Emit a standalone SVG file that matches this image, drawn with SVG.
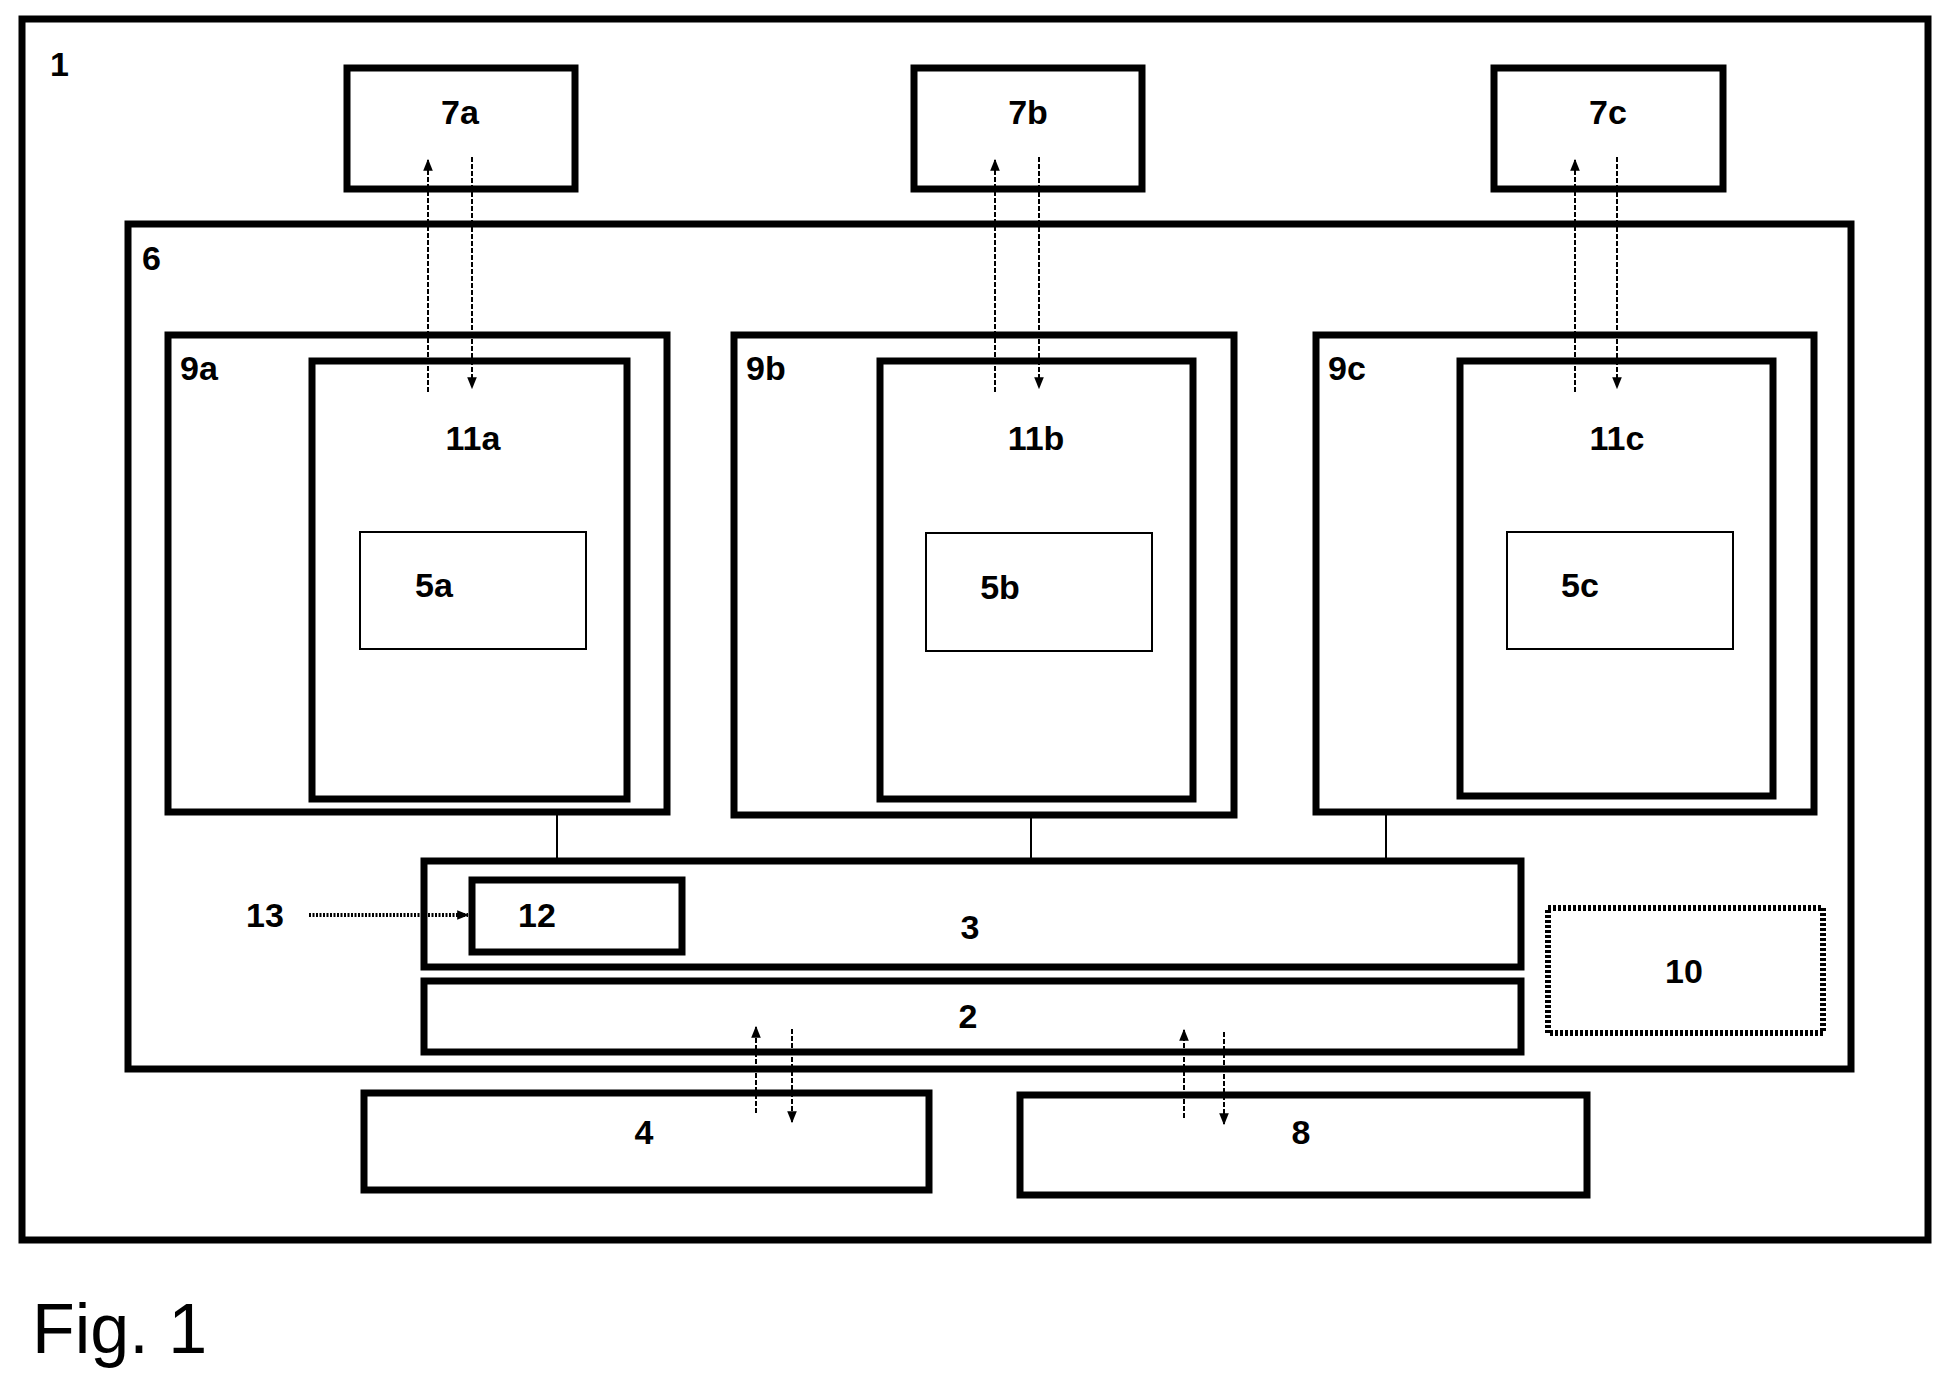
<svg xmlns="http://www.w3.org/2000/svg" width="1951" height="1391" viewBox="0 0 1951 1391">
<defs>
<style>
.b{fill:none;stroke:#000;stroke-width:7}
.t{fill:none;stroke:#000;stroke-width:2}
.l{font-family:"Liberation Sans",Arial,sans-serif;font-weight:bold;font-size:34px;fill:#000}
.c{text-anchor:middle}
.d{stroke:#000;stroke-width:2;stroke-dasharray:5 2;fill:none}
</style>
<marker id="a" viewBox="0 0 10 10" refX="9" refY="5" markerWidth="12" markerHeight="12" markerUnits="userSpaceOnUse" orient="auto"><path d="M0,1 L10,5 L0,9 Z" fill="#000"/></marker>
</defs>
<rect width="1951" height="1391" fill="#fff"/>
<g id="n1"><rect class="b" x="22" y="19" width="1906" height="1221"/><text class="l" x="50" y="76">1</text></g>
<g id="n7a"><rect class="b" x="347" y="68" width="228" height="121"/><text class="l c" x="460" y="124">7a</text></g>
<g id="n7b"><rect class="b" x="914" y="68" width="228" height="121"/><text class="l c" x="1028" y="124">7b</text></g>
<g id="n7c"><rect class="b" x="1494" y="68" width="229" height="121"/><text class="l c" x="1608" y="124">7c</text></g>
<g id="n6"><rect class="b" x="128" y="224" width="1723" height="845"/><text class="l" x="142" y="270">6</text></g>
<g id="n9a"><rect class="b" x="168" y="335" width="499" height="477"/><text class="l" x="180" y="380">9a</text></g>
<g id="n9b"><rect class="b" x="734" y="335" width="500" height="480"/><text class="l" x="746" y="380">9b</text></g>
<g id="n9c"><rect class="b" x="1316" y="335" width="498" height="477"/><text class="l" x="1328" y="380">9c</text></g>
<g id="n11a"><rect class="b" x="312" y="361" width="315" height="438"/><text class="l c" x="473" y="450">11a</text></g>
<g id="n11b"><rect class="b" x="880" y="361" width="313" height="438"/><text class="l c" x="1036" y="450">11b</text></g>
<g id="n11c"><rect class="b" x="1460" y="361" width="313" height="435"/><text class="l c" x="1617" y="450">11c</text></g>
<g id="n5a"><rect class="t" x="360" y="532" width="226" height="117"/><text class="l c" x="434" y="597">5a</text></g>
<g id="n5b"><rect class="t" x="926" y="533" width="226" height="118"/><text class="l c" x="1000" y="599">5b</text></g>
<g id="n5c"><rect class="t" x="1507" y="532" width="226" height="117"/><text class="l c" x="1580" y="597">5c</text></g>
<g id="n3"><rect class="b" x="424" y="861" width="1097" height="106"/><text class="l c" x="970" y="939">3</text></g>
<g id="n12"><rect class="b" x="472" y="880" width="210" height="72"/><text class="l c" x="537" y="927">12</text></g>
<g id="n2"><rect class="b" x="424" y="981" width="1097" height="71"/><text class="l c" x="968" y="1028">2</text></g>
<g id="n10"><rect x="1548" y="908" width="275" height="125" fill="none" stroke="#000" stroke-width="6" stroke-dasharray="3 2"/><text class="l c" x="1684" y="983">10</text></g>
<g id="n4"><rect class="b" x="364" y="1093" width="565" height="97"/><text class="l c" x="644" y="1144">4</text></g>
<g id="n8"><rect class="b" x="1020" y="1095" width="567" height="100"/><text class="l c" x="1301" y="1144">8</text></g>
<g id="n13"><text class="l c" x="265" y="927">13</text></g>
<text x="32" y="1353" font-family="Liberation Sans,Arial,sans-serif" font-size="70" fill="#000">Fig. 1</text>
<g id="connectors">
<line x1="557" y1="812" x2="557" y2="861" stroke="#000" stroke-width="2"/>
<line x1="1031" y1="815" x2="1031" y2="861" stroke="#000" stroke-width="2"/>
<line x1="1386" y1="812" x2="1386" y2="861" stroke="#000" stroke-width="2"/>
<line class="d" x1="428" y1="392" x2="428" y2="160" marker-end="url(#a)"/>
<line class="d" x1="472" y1="157" x2="472" y2="388" marker-end="url(#a)"/>
<line class="d" x1="995" y1="392" x2="995" y2="160" marker-end="url(#a)"/>
<line class="d" x1="1039" y1="157" x2="1039" y2="388" marker-end="url(#a)"/>
<line class="d" x1="1575" y1="392" x2="1575" y2="160" marker-end="url(#a)"/>
<line class="d" x1="1617" y1="157" x2="1617" y2="388" marker-end="url(#a)"/>
<line class="d" x1="756" y1="1113" x2="756" y2="1027" marker-end="url(#a)"/>
<line class="d" x1="792" y1="1029" x2="792" y2="1122" marker-end="url(#a)"/>
<line class="d" x1="1184" y1="1118" x2="1184" y2="1030" marker-end="url(#a)"/>
<line class="d" x1="1224" y1="1032" x2="1224" y2="1124" marker-end="url(#a)"/>
<line x1="309" y1="915" x2="468" y2="915" stroke="#000" stroke-width="4" stroke-dasharray="2 1.5" marker-end="url(#a)"/>
</g>
</svg>
